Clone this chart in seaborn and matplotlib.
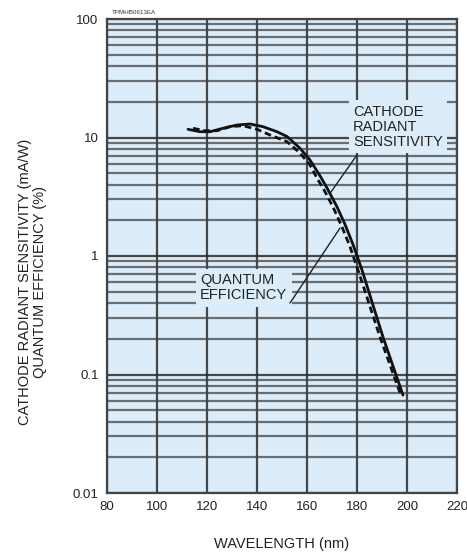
import matplotlib
matplotlib.use("Agg")
import matplotlib.pyplot as plt
import seaborn as sns
import pandas as pd
import numpy as np
from matplotlib.ticker import LogLocator, FixedLocator, NullFormatter

# ---- data ----
crs_wavelength = [112.4, 117.2, 121.2, 126.4, 132.0, 137.2, 142.4, 148.0, 152.0,
                  157.2, 161.2, 165.2, 168.0, 172.0, 175.2, 178.4, 182.0, 190.4, 198.4]
crs_value = [11.73, 11.19, 11.19, 11.96, 12.75, 13.0, 12.34, 11.19, 10.2,
             8.11, 6.46, 4.75, 3.75, 2.6, 1.85, 1.25, 0.762, 0.207, 0.067]

qe_wavelength = [114.4, 119.2, 124.0, 129.2, 134.4, 140.0, 145.2, 152.0, 157.2,
                 161.2, 164.4, 166.4, 170.4, 174.0, 177.2, 180.4, 189.2, 197.2]
qe_value = [11.96, 11.41, 11.41, 12.34, 12.58, 11.73, 10.5, 9.22, 7.4,
            5.86, 4.38, 3.75, 2.59, 1.76, 1.2, 0.762, 0.207, 0.070]

x_ticks = [80, 100, 120, 140, 160, 180, 200, 220]
y_ticks = [0.01, 0.1, 1, 10, 100]
y_tick_labels = ["0.01", "0.1", "1", "10", "100"]

df_crs = pd.DataFrame({"wavelength": crs_wavelength, "value": crs_value})
df_qe = pd.DataFrame({"wavelength": qe_wavelength, "value": qe_value})

sns.set_style("white")
plt.rcParams["font.family"] = ["Liberation Sans", "DejaVu Sans"]

fig = plt.figure(figsize=(4.67, 5.54), dpi=100)
ax = fig.add_axes([107 / 467, 1 - 493 / 554, 350 / 467, 474 / 554])
ax.set_facecolor("#dcecf9")

ax.set_yscale("log")
ax.set_xlim(80, 220)
ax.set_ylim(0.01, 100)

# grid
ax.xaxis.set_major_locator(FixedLocator(x_ticks))
ax.yaxis.set_major_locator(FixedLocator(y_ticks))
ax.yaxis.set_minor_locator(LogLocator(base=10, subs=np.arange(2, 10)))
ax.yaxis.set_minor_formatter(NullFormatter())
ax.set_yticklabels(y_tick_labels)
ax.grid(True, which="major", axis="both", color="#2a2a2a", lw=1.6, alpha=0.85, zorder=1)
ax.grid(True, which="minor", axis="y", color="#444444", lw=1.6, alpha=0.75, zorder=1)
ax.set_axisbelow(True)

ax.tick_params(axis="both", which="both", length=0, labelsize=9.5, colors="#222222")
ax.tick_params(axis="y", pad=6)
ax.tick_params(axis="x", pad=6)

for s in ax.spines.values():
    s.set_color("#444444")
    s.set_linewidth(1.6)

sns.lineplot(data=df_crs, x="wavelength", y="value", ax=ax, color="#111111",
             lw=2.0, sort=True, zorder=5)
sns.lineplot(data=df_qe, x="wavelength", y="value", ax=ax, color="#111111",
             lw=2.0, sort=True, zorder=5)
ax.lines[-1].set_dashes([2.4, 1.4])

# annotations
bg = ax.get_facecolor()
ax.text(178.4, 12.3, "CATHODE\nRADIANT\nSENSITIVITY", ha="left", va="center",
        fontsize=10.5, color="#222222", linespacing=1.1, zorder=6,
        bbox=dict(boxstyle="square,pad=0.3", fc=bg, ec="none"))
ax.plot([180.0, 169.3], [7.12, 3.4], color="#222222", lw=1.0, zorder=6)

ax.text(117.2, 0.54, "QUANTUM\nEFFICIENCY", ha="left", va="center",
        fontsize=10.5, color="#222222", linespacing=1.1, zorder=6,
        bbox=dict(boxstyle="square,pad=0.3", fc=bg, ec="none"))
ax.plot([153.2, 173.2], [0.401, 1.72], color="#222222", lw=1.0, zorder=6)

ax.set_xlabel("WAVELENGTH (nm)", fontsize=10.5, color="#222222", labelpad=17)
ax.set_ylabel("CATHODE RADIANT SENSITIVITY (mA/W)\nQUANTUM EFFICIENCY (%)",
              fontsize=10.5, color="#222222", linespacing=1.05)
ax.yaxis.set_label_coords(-0.172, 0.445)

fig.text(112 / 467, 1 - 13 / 554, "TPMHB0613EA", fontsize=4.5, color="#333333",
         ha="left", va="center")

fig.savefig("out.png", dpi=100)
